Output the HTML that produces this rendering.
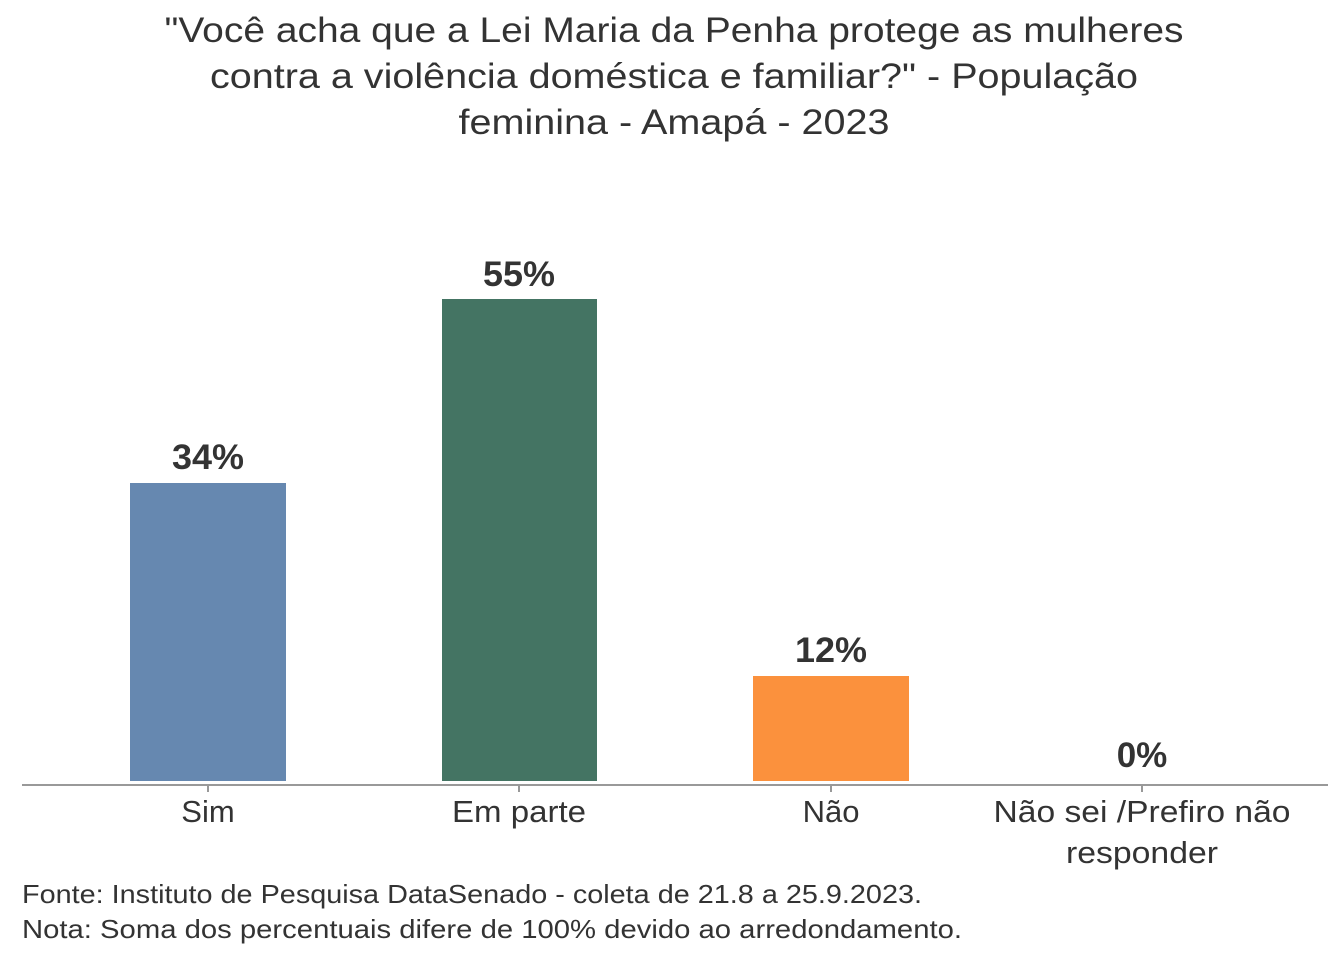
<!DOCTYPE html>
<html><head><meta charset="utf-8"><style>
body{margin:0;background:#fff;width:1344px;height:960px;overflow:hidden;font-family:"Liberation Sans",sans-serif;}
svg text{font-family:"Liberation Sans",sans-serif;}
</style></head><body>
<svg width="1344" height="960" xmlns="http://www.w3.org/2000/svg">
<g fill="#333" font-size="35" text-anchor="middle">
<text x="674" y="42" textLength="1019" lengthAdjust="spacingAndGlyphs">"Você acha que a Lei Maria da Penha protege as mulheres</text>
<text x="674" y="88" textLength="928" lengthAdjust="spacingAndGlyphs">contra a violência doméstica e familiar?" - População</text>
<text x="674" y="134" textLength="431" lengthAdjust="spacingAndGlyphs">feminina - Amapá - 2023</text>
</g>
<rect x="130" y="483" width="156" height="298" fill="#6688b0"/>
<rect x="442" y="299" width="155" height="482" fill="#447463"/>
<rect x="753" y="676" width="156" height="105" fill="#fb913d"/>
<line x1="22" y1="785" x2="1328" y2="785" stroke="#999" stroke-width="2"/>
<g stroke="#999" stroke-width="2">
<line x1="208" y1="785" x2="208" y2="792"/><line x1="519" y1="785" x2="519" y2="792"/>
<line x1="831" y1="785" x2="831" y2="792"/><line x1="1142" y1="785" x2="1142" y2="792"/>
</g>
<g fill="#333" font-size="35" font-weight="bold" text-anchor="middle">
<text x="208" y="469" textLength="72" lengthAdjust="spacingAndGlyphs">34%</text><text x="519" y="286" textLength="72" lengthAdjust="spacingAndGlyphs">55%</text>
<text x="831" y="662" textLength="72" lengthAdjust="spacingAndGlyphs">12%</text><text x="1142" y="767">0%</text>
</g>
<g fill="#333" font-size="31" text-anchor="middle">
<text x="208" y="822">Sim</text><text x="519" y="822" textLength="134" lengthAdjust="spacingAndGlyphs">Em parte</text>
<text x="831" y="822">Não</text><text x="1142" y="822" textLength="297" lengthAdjust="spacingAndGlyphs">Não sei /Prefiro não</text>
<text x="1142" y="863" textLength="152" lengthAdjust="spacingAndGlyphs">responder</text>
</g>
<g fill="#333" font-size="26">
<text x="22" y="903" textLength="900" lengthAdjust="spacingAndGlyphs">Fonte: Instituto de Pesquisa DataSenado - coleta de 21.8 a 25.9.2023.</text>
<text x="22" y="938" textLength="940" lengthAdjust="spacingAndGlyphs">Nota: Soma dos percentuais difere de 100% devido ao arredondamento.</text>
</g>
</svg>
</body></html>
